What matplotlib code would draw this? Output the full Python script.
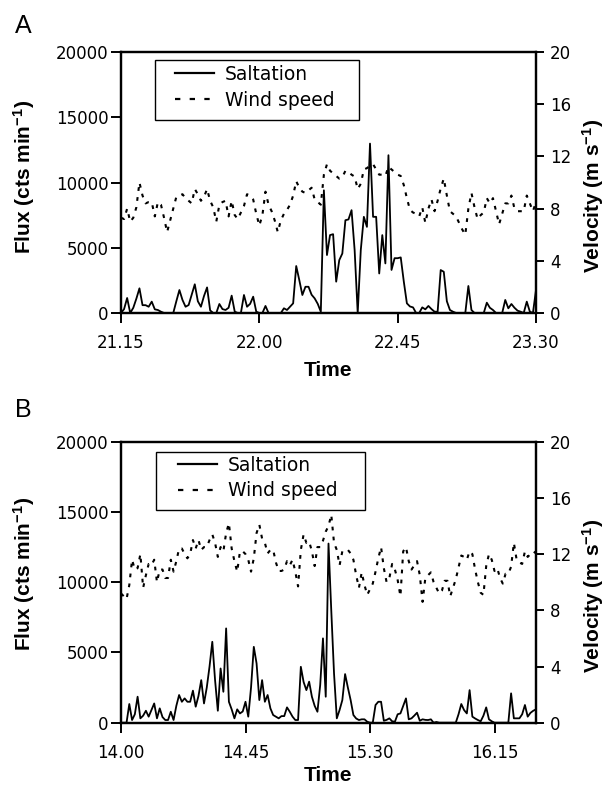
import matplotlib.pyplot as plt
import numpy as np
from matplotlib.lines import Line2D
from matplotlib.patches import Rectangle

plt.rcParams['font.family'] = 'DejaVu Sans'
plt.rcParams['mathtext.default'] = 'regular'

# panel A: one value per minute from 21.15 to 23.30
flux_a = [0, 300, 1150, 0, 400, 1100, 1890, 600, 600, 480,
          870, 280, 230, 100, 0, 0, 0, 0, 900, 1760,
          1000, 480, 610, 1400, 2200, 900, 480, 1300, 1960, 200,
          0, 0, 690, 300, 230, 400, 1330, 100, 0, 0,
          1380, 480, 700, 1250, 100, 0, 0, 540, 0, 0,
          0, 0, 0, 360, 230, 480, 740, 3600, 2520, 1380,
          2010, 2010, 1400, 1120, 700, 100, 9400, 4440, 5970, 6040,
          2400, 4050, 4560, 7110, 7170, 7880, 4820, 0, 4820, 7370,
          6600, 12980, 7370, 7370, 3030, 5970, 3800, 12090, 3300, 4200,
          4200, 4260, 2400, 740, 500, 430, 0, 0, 430, 280,
          540, 300, 100, 100, 3290, 3160, 900, 230, 100, 0,
          0, 0, 0, 2070, 230, 0, 0, 0, 0, 790,
          400, 230, 0, 0, 0, 1000, 360, 690, 400, 180,
          100, 0, 870, 100, 0, 1760]
wind_a = [7.3, 7.2, 8.0, 7.0, 7.3, 8.1, 10.0, 9.0, 8.4, 8.5,
          8.5, 7.4, 8.5, 8.3, 7.3, 6.2, 7.1, 8.0, 8.9, 9.0,
          9.1, 8.8, 8.6, 8.4, 9.5, 9.1, 8.6, 8.9, 9.5, 8.6,
          8.1, 7.0, 8.3, 8.5, 8.6, 7.4, 8.6, 7.5, 7.2, 7.7,
          8.2, 9.1, 9.0, 8.7, 7.6, 6.7, 7.5, 9.3, 8.3, 7.8,
          7.1, 6.2, 7.1, 7.6, 7.9, 8.3, 9.0, 10.1, 9.6, 9.3,
          9.2, 9.4, 9.6, 8.7, 8.5, 8.3, 10.6, 11.4, 10.9, 10.7,
          10.5, 10.3, 10.4, 10.9, 10.8, 10.6, 10.45, 9.5, 9.9, 11.0,
          11.1, 11.3, 11.4, 11.0, 10.6, 10.6, 10.5, 11.2, 11.0, 10.8,
          10.6, 10.5, 9.8, 8.8, 7.9, 7.7, 7.6, 7.4, 8.1, 6.9,
          8.0, 8.7, 7.8, 8.6, 9.55, 10.3, 9.0, 7.8, 7.6, 7.4,
          6.9, 6.4, 6.0, 8.0, 9.2, 8.1, 7.2, 7.5, 7.7, 8.8,
          8.4, 8.8, 7.8, 6.8, 7.6, 8.4, 8.4, 9.0, 8.0, 7.8,
          7.8, 7.8, 9.0, 8.4, 7.8, 8.5]
ticks_a = ['21.15', '22.00', '22.45', '23.30']

# panel B: one value per minute from 14.00 to 16.30
flux_b = [0, 0, 0, 1330, 190, 600, 1850, 310, 500, 850,
          430, 900, 1370, 310, 1020, 400, 190, 190, 780, 190,
          1200, 1970, 1490, 1730, 1490, 1490, 2280, 1140, 1900, 3030,
          1370, 2500, 4000, 5760, 3030, 850, 3860, 2200, 6710, 1490,
          950, 310, 950, 660, 800, 1490, 430, 2500, 5400, 4220,
          1610, 3030, 1490, 1970, 1020, 545, 430, 310, 470, 470,
          1090, 780, 430, 190, 190, 3980, 2900, 2320, 2920, 1850,
          1200, 780, 2680, 6000, 1850, 12750, 8000, 3500, 310, 900,
          1610, 3460, 2500, 1610, 545, 300, 190, 240, 240, 70,
          0, 0, 1260, 1490, 1490, 140, 200, 310, 100, 70,
          600, 660, 1200, 1730, 240, 310, 500, 710, 140, 240,
          200, 190, 240, 0, 50, 0, 0, 0, 0, 0,
          0, 0, 600, 1330, 900, 660, 2320, 430, 300, 190,
          100, 500, 1090, 240, 100, 0, 0, 0, 0, 0,
          0, 2090, 310, 310, 310, 600, 1260, 430, 700, 850,
          950]
wind_b = [9.2, 9.0, 8.8, 9.8, 11.6, 10.9, 11.0, 12.0, 9.6, 10.5,
          11.3, 11.2, 11.6, 10.0, 10.9, 10.9, 10.3, 10.3, 11.6, 10.75,
          11.5, 12.4, 12.4, 12.0, 11.7, 12.0, 13.0, 12.4, 13.0, 12.3,
          12.5, 12.5, 13.0, 13.4, 12.8, 11.8, 12.5, 12.2, 13.5, 14.2,
          12.4, 11.5, 10.75, 12.2, 12.2, 12.0, 11.6, 10.75, 11.7, 13.5,
          14.1, 13.1, 12.8, 12.05, 12.3, 12.3, 11.4, 10.8, 10.8, 10.9,
          11.5, 11.2, 11.6, 10.75, 9.7, 12.3, 13.4, 12.8, 12.9, 12.2,
          11.15, 12.5, 12.5, 12.95, 13.6, 14.0, 14.8, 12.8, 12.3, 11.2,
          12.2, 12.3, 12.3, 12.05, 11.6, 10.5, 9.6, 10.7, 9.8, 9.1,
          9.5, 9.9, 10.75, 11.7, 12.5, 11.0, 10.0, 10.3, 11.3, 10.9,
          10.15, 9.0, 12.2, 12.5, 11.5, 10.9, 11.2, 11.5, 10.5, 8.6,
          10.3, 10.5, 10.7, 10.0, 9.6, 9.2, 9.4, 10.1, 10.1, 9.0,
          9.6, 10.2, 11.05, 11.9, 11.8, 11.6, 12.2, 12.0, 10.9, 10.0,
          9.25, 9.1, 11.15, 12.0, 11.6, 10.8, 11.0, 10.3, 9.9, 10.6,
          10.6, 11.1, 12.8, 11.6, 11.4, 11.3, 12.2, 11.8, 12.0, 12.2,
          12.05]
ticks_b = ['14.00', '14.45', '15.30', '16.15']

LABEL = dict(family='Liberation Sans', weight='bold', size=15)
WIND_DASH = (0, (1.8, 3.0))


def panel(ax, flux, wind, ticklabels, xmax, box, leg_anchor, ylab_y):
    t = np.arange(len(flux))
    ax.plot(t, flux, color='black', lw=1.3)
    ax.set_xlim(0, xmax)
    ax.set_ylim(0, 20000)
    ax.set_yticks(np.arange(0, 20001, 5000))
    ax.set_xticks([0, 45, 90, 135])
    ax.set_xticklabels(ticklabels)
    ax.set_xlabel('Time', **LABEL)
    ax.set_ylabel('Flux (cts min$^{-1}$)', **LABEL)
    ax.yaxis.set_label_coords(-0.202, ylab_y)
    ax.tick_params(axis='y', direction='out', length=7, width=1.4, labelsize=12, pad=2)
    ax.tick_params(axis='x', direction='out', length=7, width=1.4, labelsize=12, pad=8)

    ax2 = ax.twinx()
    ax2.plot(np.arange(len(wind)), wind, color='black', lw=1.5, linestyle=WIND_DASH)
    ax2.set_ylim(0, 20)
    ax2.set_yticks(np.arange(0, 21, 4))
    ax2.set_ylabel('Velocity (m s$^{-1}$)', **LABEL)
    ax2.yaxis.set_label_coords(1.106, 0.45)
    ax2.tick_params(axis='y', direction='out', length=6, width=1.4, labelsize=12, pad=4)
    for a in (ax, ax2):
        for s in a.spines.values():
            s.set_linewidth(1.6)

    # legend frame drawn separately (wide side padding as in the original)
    x0, y0, x1, y1 = box
    ax2.add_patch(Rectangle((x0, y0), x1 - x0, y1 - y0, transform=ax2.transAxes,
                            facecolor='white', edgecolor='black', lw=1.0, zorder=5))
    handles = [Line2D([], [], color='black', lw=1.6),
               Line2D([], [], color='black', lw=1.6, linestyle=(0, (2.4, 4.2)))]
    leg = ax2.legend(handles, ['Saltation', 'Wind speed'], loc='upper left',
                     bbox_to_anchor=leg_anchor, fontsize=13.5, frameon=False,
                     handlelength=2.1, handletextpad=0.55, labelspacing=0.35,
                     borderpad=0, borderaxespad=0)
    leg.set_zorder(6)
    return ax2


fig = plt.figure(figsize=(6.15, 7.89), dpi=100)
axA = fig.add_axes([121 / 615, 1 - 313 / 789, 415 / 615, 261 / 789])
axB = fig.add_axes([121 / 615, 1 - 722.7 / 789, 415 / 615, 281 / 789])

panel(axA, flux_a, wind_a, ticks_a, 135, (0.082, 0.739, 0.573, 0.969), (0.130, 0.950), 0.52)
axA.xaxis.set_label_coords(0.5, -0.185)
panel(axB, flux_b, wind_b, ticks_b, 150, (0.084, 0.757, 0.588, 0.963), (0.137, 0.950), 0.53)
axB.xaxis.set_label_coords(0.5, -0.155)

fig.text(15 / 615, 1 - 33 / 789, 'A', fontsize=18, family='Liberation Sans')
fig.text(15 / 615, 1 - 417 / 789, 'B', fontsize=18, family='Liberation Sans')

fig.savefig('out.png', dpi=100)
